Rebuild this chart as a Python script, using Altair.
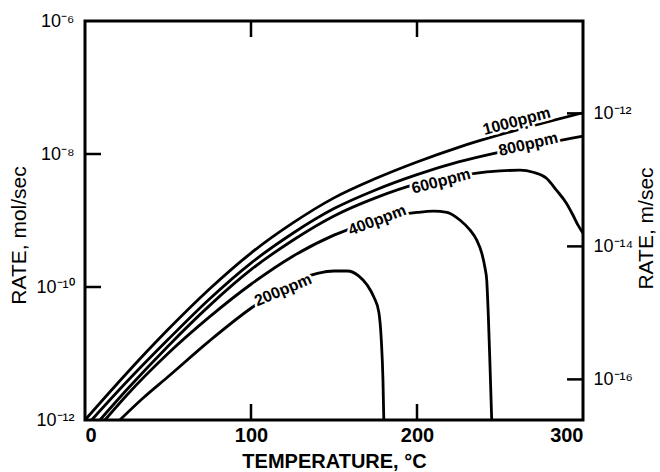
import math
import altair as alt
import pandas as pd

# ---------------- data ----------------
# temperature (deg C) and rate (mol/sec) for each concentration curve
t_1000 = [0, 25, 50, 75, 100, 125, 150, 175, 200, 225, 250, 275, 300]
r_1000 = [1.0e-12, 5.01e-12, 2.29e-11, 9.33e-11, 3.24e-10, 9.12e-10, 2.19e-9,
          4.27e-9, 7.59e-9, 1.26e-8, 1.95e-8, 2.88e-8, 4.17e-8]

t_800 = [4, 25, 50, 75, 100, 125, 150, 175, 200, 225, 250, 275, 300]
r_800 = [1.0e-12, 3.72e-12, 1.62e-11, 6.61e-11, 2.29e-10, 6.38e-10, 1.51e-9,
         2.88e-9, 4.90e-9, 7.59e-9, 1.07e-8, 1.41e-8, 1.86e-8]

t_600 = [9, 25, 50, 75, 100, 125, 150, 175, 200, 225, 235, 250, 262, 270,
         278, 284, 290, 294, 297, 300]
r_600 = [1.0e-12, 2.82e-12, 1.29e-11, 5.25e-11, 1.82e-10, 5.01e-10, 1.17e-9,
         2.19e-9, 3.55e-9, 4.68e-9, 5.13e-9, 5.56e-9, 5.71e-9, 5.32e-9,
         4.32e-9, 2.86e-9, 1.82e-9, 1.20e-9, 8.51e-10, 6.46e-10]

t_400 = [12, 25, 50, 75, 100, 125, 150, 175, 200, 210, 218, 226, 232, 236,
         239, 241, 242, 243, 244, 245]
r_400 = [1.0e-12, 2.34e-12, 1.0e-11, 3.55e-11, 1.10e-10, 2.88e-10, 6.03e-10,
         1.0e-9, 1.32e-9, 1.38e-9, 1.33e-9, 1.01e-9, 7.16e-10, 5.07e-10,
         3.24e-10, 1.92e-10, 1.27e-10, 3.53e-11, 6.31e-12, 1.0e-12]

t_200 = [21, 35, 50, 75, 100, 120, 140, 150, 158, 165, 170, 174, 177, 178.5,
         179.5, 180]
r_200 = [1.0e-12, 2.14e-12, 4.47e-12, 1.55e-11, 4.79e-11, 1.0e-10, 1.60e-10,
         1.74e-10, 1.74e-10, 1.46e-10, 1.07e-10, 7.05e-11, 4.19e-11, 1.58e-11,
         3.98e-12, 1.0e-12]

curve_names = ["1000ppm", "800ppm", "600ppm", "400ppm", "200ppm"]
curve_t = [t_1000, t_800, t_600, t_400, t_200]
curve_r = [r_1000, r_800, r_600, r_400, r_200]

# curve labels
label_text = ["1000ppm", "800ppm", "600ppm", "400ppm", "200ppm"]
label_t = [260, 267, 214.5, 176, 119.3]
label_rate = [3.11e-8, 1.40e-8, 3.90e-9, 1.01e-9, 8.97e-11]
label_angle = [345, 347, 345, 339, 337]

# axes
x_ticks = [0, 100, 200, 300]
x_inner_ticks = [100, 200]
left_ticks = [1e-12, 1e-10, 1e-8, 1e-6]
left_tick_labels = ["10⁻¹²", "10⁻¹⁰", "10⁻⁸", "10⁻⁶"]
left_inner_ticks = [1e-8, 1e-10]
right_ticks = [1e-16, 1e-14, 1e-12]
right_tick_labels = ["10⁻¹⁶", "10⁻¹⁴", "10⁻¹²"]
left_domain = [1e-12, 1e-6]
right_domain = [2.45e-17, 2.45e-11]

# ---------------- build ----------------
W, H = 498, 399
FONT = "Liberation Sans"

rows = []
for name, ts, rs in zip(curve_names, curve_t, curve_r):
    for t, r in zip(ts, rs):
        rows.append({"curve": name, "T": t, "rate": r})
df = pd.DataFrame(rows)

lab_df = pd.DataFrame({"label": label_text, "T": label_t, "rate": label_rate,
                       "angle": label_angle})


def label_expr(vals, labs):
    expr = "''"
    for v, l in zip(vals, labs):
        e = round(math.log10(v))
        expr = f"(round(log(datum.value)/LN10) == {e}) ? '{l}' : ({expr})"
    return expr


x_enc = alt.X("T:Q", scale=alt.Scale(domain=[0, 300], nice=False, zero=False),
              axis=alt.Axis(values=x_ticks, title="TEMPERATURE, °C", ticks=False,
                            domain=False, grid=False, labelFontSize=20,
                            labelPadding=5, labelFont=FONT, labelFontWeight="bold",
                            titleFont=FONT, titleFontSize=20, titleFontWeight="bold",
                            titleX=W / 2, titleY=41, titleBaseline="middle",
                            labelColor="black", titleColor="black"))

y_enc = alt.Y("rate:Q", scale=alt.Scale(type="log", domain=left_domain, nice=False),
              axis=alt.Axis(values=left_ticks,
                            labelExpr=label_expr(left_ticks, left_tick_labels),
                            title="RATE, mol/sec", ticks=False, domain=False,
                            grid=False, labelFontSize=18, labelPadding=11,
                            labelFont=FONT, labelFontWeight="normal",
                            titleFont=FONT, titleFontSize=21, titleFontWeight="normal",
                            titleAngle=270, titleX=-66, titleY=214,
                            titleAlign="center", titleBaseline="middle",
                            labelColor="black", titleColor="black"))

y_right_enc = alt.Y("ms:Q", scale=alt.Scale(type="log", domain=right_domain, nice=False),
                    axis=alt.Axis(orient="right", values=right_ticks,
                                  labelExpr=label_expr(right_ticks, right_tick_labels),
                                  title="RATE,  m/sec", ticks=False, domain=False,
                                  grid=False, labelFontSize=18, labelPadding=10,
                                  labelFont=FONT, labelFontWeight="normal",
                                  titleFont=FONT, titleFontSize=21,
                                  titleFontWeight="normal", titleAngle=270,
                                  titleX=63, titleY=207, titleAlign="center",
                                  titleBaseline="middle",
                                  labelColor="black", titleColor="black"))

lines = alt.Chart(df).mark_line(color="black", strokeWidth=2.8,
                                interpolate="monotone").encode(
    x=x_enc, y=y_enc, detail="curve:N", order="T:Q")

halo = alt.Chart(lab_df).mark_text(font=FONT, fontSize=16, fontWeight="bold",
                                   color="white", stroke="white", strokeWidth=5,
                                   align="center", baseline="middle").encode(
    x=x_enc, y=y_enc, text="label:N", angle=alt.Angle("angle:Q", scale=None))

labels = alt.Chart(lab_df).mark_text(font=FONT, fontSize=16, fontWeight="bold",
                                     color="black", align="center",
                                     baseline="middle").encode(
    x=x_enc, y=y_enc, text="label:N", angle=alt.Angle("angle:Q", scale=None))

xt_df = pd.DataFrame({"T": x_inner_ticks})
bottom_ticks = alt.Chart(xt_df).mark_rule(color="black", strokeWidth=2.5).encode(
    x=x_enc, y=alt.value(H), y2=alt.value(H - 16))
top_ticks = alt.Chart(xt_df).mark_rule(color="black", strokeWidth=2.5).encode(
    x=x_enc, y=alt.value(0), y2=alt.value(16))

lt_df = pd.DataFrame({"rate": left_inner_ticks})
left_tk = alt.Chart(lt_df).mark_rule(color="black", strokeWidth=2.5).encode(
    y=y_enc, x=alt.value(0), x2=alt.value(16))

left_group = alt.layer(lines, halo, labels, bottom_ticks, top_ticks, left_tk)

rt_df = pd.DataFrame({"ms": right_ticks})
right_tk = alt.Chart(rt_df).mark_rule(color="black", strokeWidth=2.5).encode(
    y=y_right_enc, x=alt.value(W), x2=alt.value(W - 16))

chart = alt.layer(left_group, right_tk).resolve_scale(y="independent").properties(
    width=W, height=H,
    autosize=alt.AutoSizeParams(type="none"),
    padding={"left": 85, "top": 21, "right": 77, "bottom": 52},
    background="white",
).configure_view(stroke="black", strokeWidth=3)

chart.save("out.html", embed_options={"renderer": "svg", "actions": False})
